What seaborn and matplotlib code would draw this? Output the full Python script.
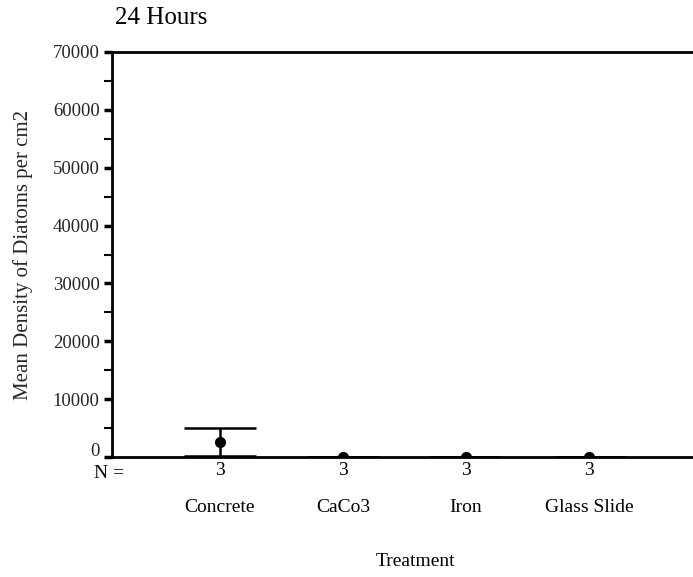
import matplotlib
matplotlib.use('Agg')
import matplotlib.pyplot as plt
import matplotlib.transforms as mtransforms
import numpy as np
import pandas as pd
import seaborn as sns

# ---- data ----
treatments = ['Concrete', 'CaCo3', 'Iron', 'Glass Slide']
mean_density = [2640, 0, 0, 0]
error_half = [2420, 0, 0, 0]
n_counts = [3, 3, 3, 3]
y_ticks = [0, 10000, 20000, 30000, 40000, 50000, 60000, 70000]

sns.set_theme(style='white')
plt.rcParams['font.family'] = ['Liberation Serif', 'DejaVu Serif']
plt.rcParams['text.color'] = 'black'

df = pd.DataFrame({'Treatment': treatments, 'Mean': mean_density, 'Err': error_half})

fig = plt.figure(figsize=(6.93, 5.77), dpi=100)
ax = fig.add_axes([112 / 693, 1 - 457 / 577, 1 - 112 / 693, (457 - 52) / 577])

sns.pointplot(data=df, x='Treatment', y='Mean', order=treatments,
              linestyle='none', errorbar=None, color='black',
              marker='o', markersize=6, ax=ax)

xpos = np.arange(len(treatments))
ax.errorbar(xpos, df['Mean'], yerr=df['Err'], fmt='none', ecolor='black',
            elinewidth=1.8, capsize=26, capthick=1.8, clip_on=True)

ax.set_xlim(-0.878, 3.846)
ax.set_ylim(0, 70000)
ax.set_yticks(y_ticks)
ax.set_yticklabels([str(v) for v in y_ticks], fontsize=13.5)
ax.set_yticks(np.arange(5000, 70000, 10000), minor=True)
ax.tick_params(axis='y', which='major', direction='out', length=6, width=2.5,
               color='black', pad=3, left=True)
ax.tick_params(axis='y', which='minor', direction='out', length=6, width=1.5,
               color='black', left=True)
# the "0" label sits a little above its tick, clear of the N = row
zero_lbl = ax.get_yticklabels()[0]
zero_lbl.set_transform(zero_lbl.get_transform() +
                       mtransforms.ScaledTranslation(0, 8 / 100, fig.dpi_scale_trans))
ax.set_xticks(xpos)
ax.set_xticklabels([])
ax.tick_params(axis='x', length=0)

for side in ['left', 'bottom', 'top']:
    ax.spines[side].set_visible(True)
    ax.spines[side].set_color('black')
    ax.spines[side].set_linewidth(2)
ax.spines['right'].set_visible(False)

# N row and category names under the axis
trans = ax.get_xaxis_transform()
for x, n, name in zip(xpos, n_counts, treatments):
    ax.text(x, -0.034, str(n), transform=trans, ha='center', va='center', fontsize=14)
    ax.text(x, -0.124, name, transform=trans, ha='center', va='center', fontsize=14)
ax.text(0.021, -0.04, 'N =', transform=ax.transAxes, ha='right', va='center',
        fontsize=14)

ax.set_xlabel('')
ax.set_ylabel('Mean Density of Diatoms per cm2', fontsize=15, labelpad=14)
fig.text(415 / 693, 1 - 561 / 577, 'Treatment', ha='center', va='center', fontsize=14)
fig.text(115 / 693, 1 - 18 / 577, '24 Hours', ha='left', va='center', fontsize=18)

fig.savefig('out.png', dpi=100)
